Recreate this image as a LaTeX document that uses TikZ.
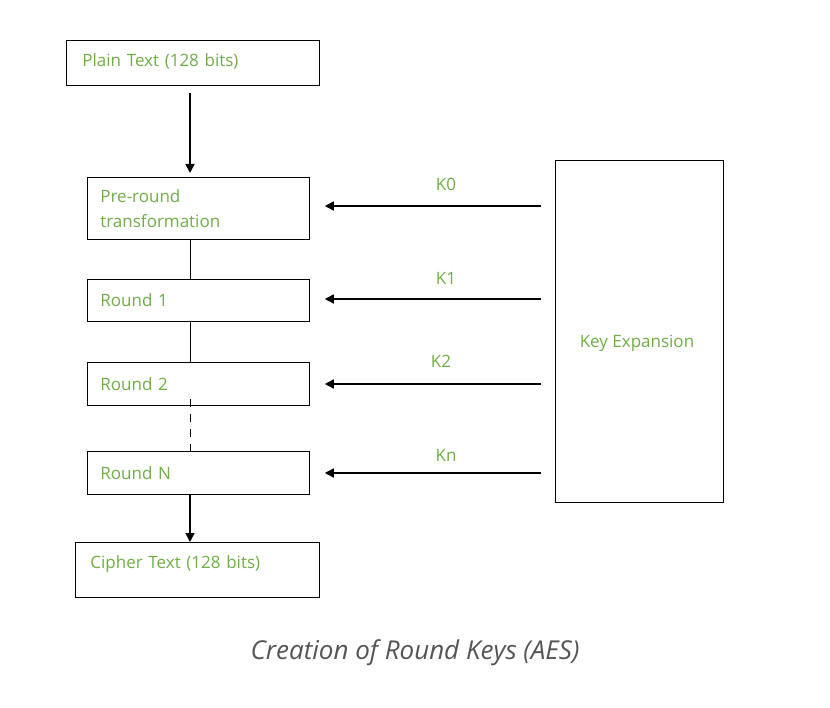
\documentclass[tikz,border=0pt]{standalone}
\usepackage{fontspec}
\setmainfont{Open Sans}
\newfontfamily\capfont{Open Sans}
\usetikzlibrary{arrows.meta}
\definecolor{lblgreen}{HTML}{70AD47}
\definecolor{capgray}{HTML}{555555}
\tikzset{
  box/.style={draw=black, line width=0.8pt, rectangle, anchor=north west, align=left,
    font=\fontsize{17}{25}\selectfont, text=lblgreen, inner ysep=0pt},
  thick arrow/.style={line width=1.6pt, -{Triangle[width=9pt,length=9pt]}},
  thin link/.style={line width=0.8pt},
  klabel/.style={font=\fontsize{17}{20}\selectfont, text=lblgreen},
}
\begin{document}
\begin{tikzpicture}[x=1pt,y=-1pt]
\useasboundingbox (0,0) rectangle (830,708);
\coordinate (spine) at (190,0);
\node[box, minimum width=253pt, minimum height=45pt, text width=221pt, inner xsep=16pt] (plain) at (66,40) {Plain Text (128 bits)\rule[-5pt]{0pt}{0pt}};
\node[box, minimum width=222pt, minimum height=62pt, text width=196pt, inner xsep=13pt] (pre) at (87,177) {Pre-round\\transformation};
\node[box, minimum width=222pt, minimum height=42pt, text width=196pt, inner xsep=13pt] (r1) at (87,279) {Round 1};
\node[box, minimum width=222pt, minimum height=43pt, text width=196pt, inner xsep=13pt] (r2) at (87,362) {Round 2};
\node[box, minimum width=222pt, minimum height=43pt, text width=196pt, inner xsep=13pt] (rn) at (87,451) {Round N};
\node[box, minimum width=244pt, minimum height=55pt, text width=214pt, inner xsep=15pt] (cipher) at (75,542) {Cipher Text (128 bits)\rule[-16pt]{0pt}{0pt}};
\node[draw=black, line width=0.8pt, rectangle, minimum width=168pt, minimum height=342pt] (kexp) at (639,331) {};
\node[klabel] (kexplabel) at (637,343) {Key Expansion};

\draw[thick arrow, shorten <=7pt, shorten >=4pt] (plain.south -| spine) -- (pre.north -| spine);
\draw[thin link] (pre.south -| spine) -- (r1.north -| spine);
\draw[thin link] (r1.south -| spine) -- (r2.north -| spine);
\draw[thin link, dash pattern=on 8pt off 7pt] ([yshift=7pt]r2.south -| spine) -- (rn.north -| spine);
\draw[thick arrow] (rn.south -| spine) -- (cipher.north -| spine);

\coordinate (k0s) at (541,206);
\coordinate (k1s) at (541,299);
\coordinate (k2s) at (541,384);
\coordinate (kns) at (541,473);
\draw[thick arrow, shorten >=15pt] (k0s) -- (k0s -| pre.east);
\draw[thick arrow, shorten >=15pt] (k1s) -- (k1s -| r1.east);
\draw[thick arrow, shorten >=15pt] (k2s) -- (k2s -| r2.east);
\draw[thick arrow, shorten >=15pt] (kns) -- (kns -| rn.east);
\node[klabel] (k0) at (446,184) {K0};
\node[klabel] (k1) at (446,278) {K1};
\node[klabel] (k2) at (441,361) {K2};
\node[klabel] (kn) at (446,455) {Kn};

\node[font=\capfont\itshape\fontsize{26}{30}\selectfont, text=capgray] (cap) at (415,653) {Creation of Round Keys (AES)};
\end{tikzpicture}
\end{document}
